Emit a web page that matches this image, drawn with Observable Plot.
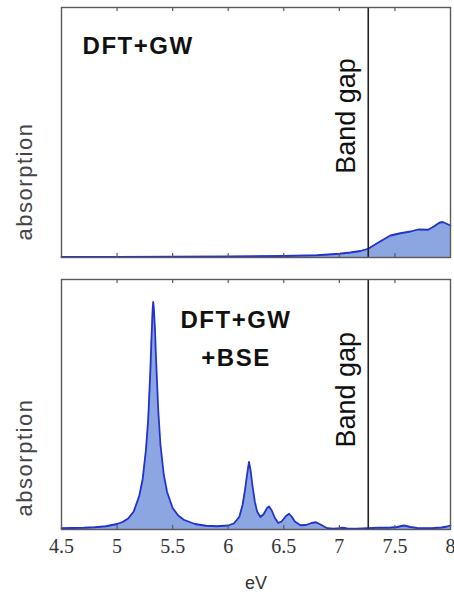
<!DOCTYPE html>
<html>
<head>
<meta charset="utf-8">
<script src="https://cdn.jsdelivr.net/npm/d3@7"></script>
<script src="https://cdn.jsdelivr.net/npm/@observablehq/plot@0.6"></script>
<style>
  html, body { margin: 0; padding: 0; background: #fff; }
  #chart { width: 454px; height: 596px; }
  #chart svg { display: block; }
</style>
</head>
<body>
<div id="chart"></div>
<script>
// ---- data ----
const xTicks = [4.5, 5, 5.5, 6, 6.5, 7, 7.5, 8];
const bandGap = 7.26;
const panelLabels = ["DFT+GW", "DFT+GW\n+BSE"];
const yLabel = "absorption";
const xLabel = "eV";
const gapLabel = "Band gap";

// DFT+GW (top)
const eVTop  = [4.5, 5.0, 5.5, 6.0, 6.5, 6.8, 7.0, 7.1, 7.19, 7.26, 7.3, 7.37, 7.46, 7.55, 7.64, 7.71, 7.8, 7.85, 7.9, 7.93, 7.955, 8.0];
const absTop = [0.2, 0.2, 0.3, 0.4, 0.6, 0.9, 1.5, 2.0, 2.6, 3.5, 4.6, 6.5, 8.8, 9.7, 10.4, 11.2, 11.1, 12.4, 13.9, 14.2, 13.7, 12.8];

// DFT+GW+BSE (bottom)
const eVBottom  = [4.5, 4.6, 4.7, 4.8, 4.9, 5.0, 5.05, 5.1, 5.15, 5.2, 5.23, 5.26, 5.28, 5.3, 5.31, 5.32, 5.325, 5.33, 5.34, 5.35, 5.37, 5.39, 5.42, 5.45, 5.5, 5.55, 5.6, 5.7, 5.8, 5.9, 6.0, 6.05, 6.1, 6.13, 6.15, 6.17, 6.187, 6.2, 6.22, 6.24, 6.26, 6.29, 6.32, 6.35, 6.367, 6.39, 6.42, 6.45, 6.48, 6.52, 6.548, 6.57, 6.6, 6.65, 6.7, 6.75, 6.79, 6.83, 6.89, 6.95, 7.0, 7.03, 7.07, 7.15, 7.26, 7.35, 7.45, 7.52, 7.58, 7.64, 7.7, 7.76, 7.85, 7.92, 7.97, 8.0];
const absBottom = [0.5, 0.6, 0.7, 0.9, 1.3, 2.2, 3.0, 4.4, 7.2, 13.5, 20, 32, 44, 64, 77, 88, 91, 89, 81, 69, 48, 34, 22, 15, 8.6, 5.6, 3.9, 2.2, 1.5, 1.3, 1.6, 2.4, 5.0, 10, 15.5, 22, 27, 24, 17, 11, 7.2, 5.0, 6.2, 8.6, 9.2, 7.8, 4.6, 2.6, 3.2, 5.4, 6.3, 5.2, 3.2, 1.7, 1.8, 2.6, 2.9, 2.0, 0.5, 0.3, 0.5, 0.7, 0.4, 0.3, 0.5, 0.7, 0.7, 1.0, 1.6, 1.0, 0.6, 0.5, 0.6, 0.8, 1.2, 1.6];

// ---- build rows ----
const topRows = eVTop.map((e, i) => ({eV: e, absorption: absTop[i]}));
const bottomRows = eVBottom.map((e, i) => ({eV: e, absorption: absBottom[i]}));
const innerTicks = xTicks.slice(1, -1);

const FILL = "#8ca6e2";
const LINE = "#2233cc";
const FRAME = "#5a5a5a";
const SANS = "Liberation Sans, Arial, sans-serif";
const SERIF = "Liberation Serif";

function panel(rows, label, opts) {
  const marks = [
    Plot.areaY(rows, {x: "eV", y: "absorption", fill: FILL}),
    Plot.line(rows, {x: "eV", y: "absorption", stroke: LINE, strokeWidth: 1.8}),
    Plot.ruleX(innerTicks, {y1: 0, y2: 1.6, stroke: FRAME, strokeWidth: 1.2}),
    Plot.ruleX(innerTicks, {y1: 98.4, y2: 100, stroke: FRAME, strokeWidth: 1.2}),
    Plot.ruleX([bandGap], {stroke: "#222", strokeWidth: 1.6}),
    Plot.frame({stroke: FRAME, strokeWidth: 1.4}),
    Plot.text([gapLabel], {x: bandGap, y: opts.gapY, text: d => d, rotate: -90, textAnchor: "start",
      dx: -22, fontSize: 27, fontFamily: SANS, fill: "#111"}),
    Plot.text([yLabel], {x: 4.5, y: opts.absY, text: d => d, rotate: -90, dx: -37,
      fontSize: 22, fontFamily: SANS, fill: "#444"}),
    Plot.text([label], {x: opts.labelX, y: opts.labelY, text: d => d, textAnchor: opts.labelAnchor,
      lineHeight: 1.6, fontSize: 24, fontWeight: "bold", fontFamily: SANS, fill: "#111"})
  ];
  if (opts.axis) {
    // tick labels, drawn as text through the x scale
    marks.push(Plot.text(xTicks, {x: d => d, frameAnchor: "bottom", text: d => String(d),
      lineAnchor: "top", dy: 9, fontSize: 20, fontFamily: SERIF, fill: "#333"}));
    marks.push(Plot.text([xLabel], {frameAnchor: "bottom", text: d => d, dy: 59,
      fontSize: 18, fontFamily: SANS, fill: "#333"}));
  }
  return Plot.plot({
    width: 454,
    height: opts.height,
    marginLeft: 61,
    marginRight: 4,
    marginTop: opts.mt,
    marginBottom: opts.mb,
    x: {domain: [4.5, 8], axis: null},
    y: {domain: [0, 100], axis: null},
    style: {background: "#fff", overflow: "visible"},
    marks
  });
}

const topPanel = panel(topRows, panelLabels[0], {height: 262, mt: 7, mb: 5, gapY: 33.5, absY: 30.4,
  labelX: 4.69, labelY: 86.2, labelAnchor: "start", axis: false});
const bottomPanel = panel(bottomRows, panelLabels[1], {height: 334, mt: 17, mb: 67, gapY: 32.8, absY: 28.8,
  labelX: 6.07, labelY: 78, labelAnchor: "middle", axis: true});

const chart = document.getElementById("chart");
chart.appendChild(topPanel);
chart.appendChild(bottomPanel);

// slight letter spacing on the sans labels to match the reference's wide lettering
d3.selectAll("#chart text").filter(function () {
  const t = this.textContent;
  return t === yLabel || t.startsWith("DFT") || t === "+BSE";
}).style("letter-spacing", "1.5px");
</script>
</body>
</html>
